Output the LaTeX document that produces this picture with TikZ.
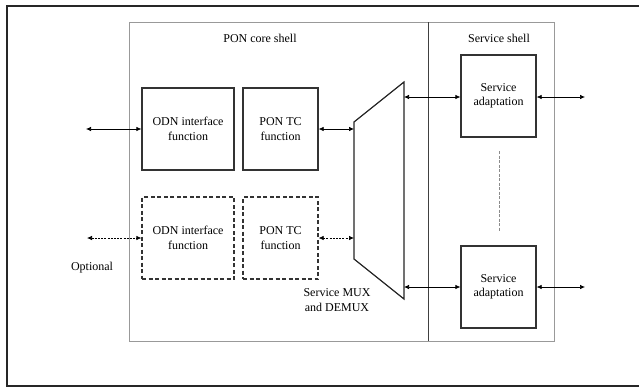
\documentclass[tikz,border=0pt]{standalone}
\usepackage{fontspec}
\setmainfont{Liberation Serif}
\usetikzlibrary{arrows.meta}
\begin{document}
\begin{tikzpicture}[x=1pt,y=-1pt,
  every node/.style={font=\fontsize{12}{14.5}\selectfont, align=center, inner sep=0pt},
  fbox/.style={draw=black!80, line width=1.2pt, minimum width=92pt, minimum height=82pt},
  tbox/.style={draw=black!80, line width=1.2pt, minimum width=75pt, minimum height=82pt},
  dsh/.style={dash pattern=on 4pt off 2.5pt},
  conn/.style={line width=0.7pt, {Latex[length=5pt,width=4.5pt]}-{Latex[length=5pt,width=4.5pt]}},
  dconn/.style={conn, dash pattern=on 2pt off 1.2pt}]
\useasboundingbox (0,0) rectangle (639,388);
\fill[white] (0,0) rectangle (639,388);
% outer frame
\draw[line width=1.6pt, black!85] (7,6) rectangle (660,386);
% shells
\draw[black!40, line width=0.9pt] (129,22) rectangle (554,341);
\draw[black!75, line width=0.8pt] (428,22) -- (428,341);
\node (pcs) at (260,38) {PON core shell};
\node (ssh) at (499,38) {Service shell};
% function boxes
\node[fbox] (odn1) at (188,129) {ODN interface\\function};
\node[tbox] (tc1) at (280.5,129) {PON TC\\function};
\node[fbox, dsh] (odn2) at (188,238) {ODN interface\\function};
\node[tbox, dsh] (tc2) at (280.5,238) {PON TC\\function};
% mux
\coordinate (m1) at (354,122);
\coordinate (m2) at (404,82);
\coordinate (m3) at (404,299);
\coordinate (m4) at (354,259);
\draw[black!85, line width=1.2pt, line join=miter] (m1) -- (m2) -- (m3) -- (m4) -- cycle;
\coordinate (mi1) at (354,129);
\coordinate (mi2) at (354,238);
\coordinate (mo1) at (404,97);
\coordinate (mo2) at (404,287);
\node (muxl) at (337,300) {Service MUX\\and DEMUX};
% service adaptation
\node[fbox, minimum width=75pt] (sa1) at (498.5,96) {Service\\adaptation};
\node[fbox, minimum width=75pt] (sa2) at (498.5,287) {Service\\adaptation};
\draw[black!45, line width=0.7pt, dash pattern=on 3pt off 1.5pt] (499,151) -- (499,232);
% free ends
\coordinate (l1) at (86,129);
\coordinate (l2) at (87,238);
\coordinate (r1) at (585,97);
\coordinate (r2) at (585,287);
\node (opt) at (92,268) {Optional};
% connectors
\draw[conn] (l1) -- (odn1.west);
\draw[conn] (tc1.east) -- (mi1);
\draw[dconn] (l2) -- (odn2.west);
\draw[dconn] (tc2.east) -- (mi2);
\draw[conn] (mo1) -- (sa1.west |- mo1);
\draw[conn] (sa1.east |- r1) -- (r1);
\draw[conn] (mo2) -- (sa2.west);
\draw[conn] (sa2.east) -- (r2);
\end{tikzpicture}
\end{document}
